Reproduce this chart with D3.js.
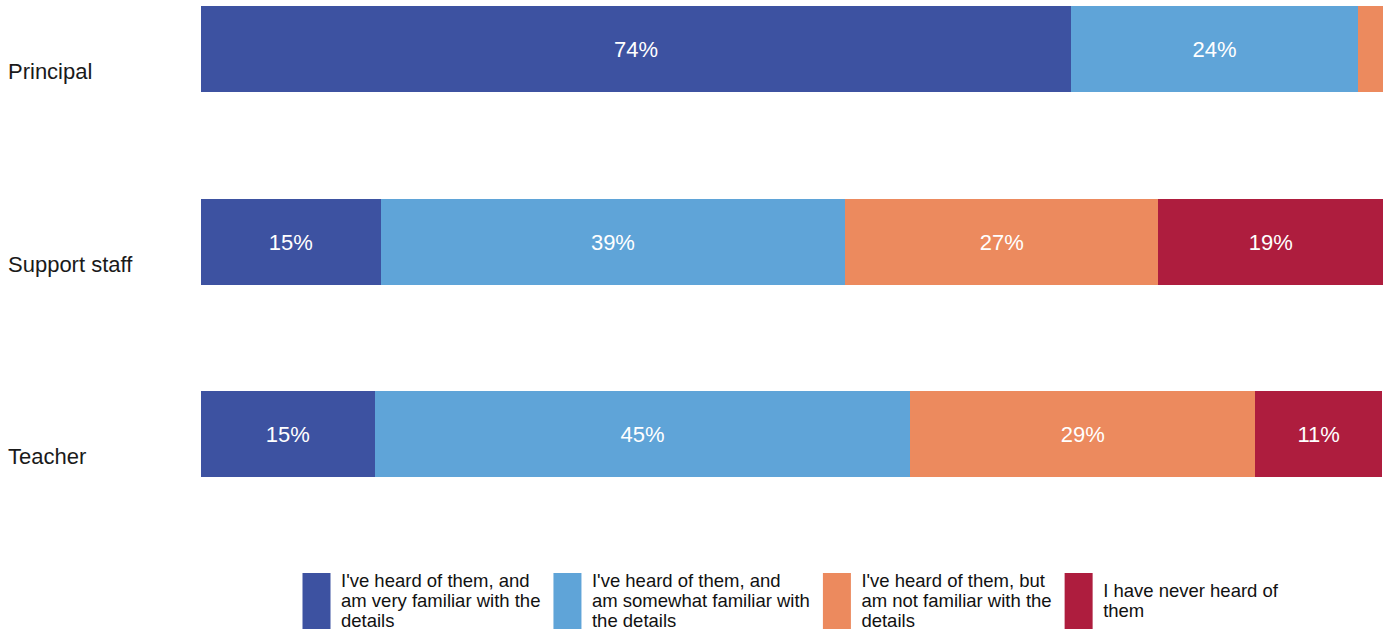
<!DOCTYPE html>
<meta charset="utf-8">
<style>
  body { margin: 0; background: #fff; }
  text { font-family: "Liberation Sans", Arial, sans-serif; }
</style>
<body>
<script src="https://d3js.org/d3.v7.min.js"></script>
<script>

const width = 1383;
const height = 633;

const categories = ["Principal", "Support staff", "Teacher"];
const seriesNames = [
  ["I've heard of them, and", "am very familiar with the", "details"],
  ["I've heard of them, and", "am somewhat familiar with", "the details"],
  ["I've heard of them, but", "am not familiar with the", "details"],
  ["I have never heard of", "them"]
];
const colors = ["#3d52a1", "#5fa4d8", "#ec8a5e", "#ae1d3e"];

// percent per category, one array per series
const veryFamiliar     = [73.6, 15.2, 14.7];
const somewhatFamiliar = [24.3, 39.3, 45.3];
const notFamiliar      = [2.1, 26.5, 29.2];
const neverHeard       = [0.0, 19.0, 10.7];
const series = [veryFamiliar, somewhatFamiliar, notFamiliar, neverHeard];

const svg = d3.select("body")
              .append("svg")
              .attr("width", width)
              .attr("height", height)
              .style("display", "block");

const xScale = d3.scaleLinear()
                 .domain([0, 100])
                 .range([201, 1383]);

const yScale = d3.scalePoint()
                 .domain(categories)
                 .range([49, 434]);

const barHeight = 86;

// stack the series
const rows = categories.map((c, i) => {
  let acc = 0;
  return series.map((s, k) => {
    const d = {cat: c, k: k, x0: acc, x1: acc + s[i], v: s[i]};
    acc += s[i];
    return d;
  });
});
const segs = rows.flat();

svg.append("g")
   .attr("class", "bars")
   .attr("shape-rendering", "crispEdges")
   .selectAll("rect")
   .data(segs)
   .enter().append("rect")
   .attr("x", d => xScale(d.x0))
   .attr("y", d => yScale(d.cat) - barHeight / 2)
   .attr("width", d => xScale(d.x1) - xScale(d.x0))
   .attr("height", barHeight)
   .attr("fill", d => colors[d.k]);

svg.append("g")
   .attr("class", "values")
   .selectAll("text")
   .data(segs.filter(d => xScale(d.x1) - xScale(d.x0) > 40))
   .enter().append("text")
   .attr("x", d => (xScale(d.x0) + xScale(d.x1)) / 2)
   .attr("y", d => yScale(d.cat) + 8)
   .attr("text-anchor", "middle")
   .attr("font-size", "22px")
   .attr("fill", "#fff")
   .text(d => Math.round(d.v) + "%");

svg.append("g")
   .attr("class", "cats")
   .selectAll("text")
   .data(categories)
   .enter().append("text")
   .attr("x", 8)
   .attr("y", d => yScale(d) + 30)
   .attr("font-size", "22px")
   .attr("fill", "#1a1a1a")
   .text(d => d);

// legend
const legend = svg.append("g").attr("class", "legend");
const items = legend.selectAll("g")
                    .data(seriesNames)
                    .enter().append("g");

items.append("rect")
     .attr("x", 0)
     .attr("y", 573)
     .attr("width", 28)
     .attr("height", 56)
     .attr("fill", (d, i) => colors[i]);

items.each(function(lines) {
  const g = d3.select(this);
  const t = g.append("text")
             .attr("font-size", "18.5px")
             .attr("fill", "#111");
  const first = 607 - (lines.length - 1) * 10;
  lines.forEach((ln, j) => {
    t.append("tspan")
     .attr("x", 38.5)
     .attr("y", first + j * 20)
     .text(ln);
  });
});

// lay out legend items side by side
let pos = 0;
const offsets = [];
items.each(function() {
  const w = this.getBBox().width;
  offsets.push(pos);
  pos += w + 13;
});
const start = xScale(0) + 101.5;
items.attr("transform", (d, i) => `translate(${start + offsets[i]},0)`);

</script>
</body>
